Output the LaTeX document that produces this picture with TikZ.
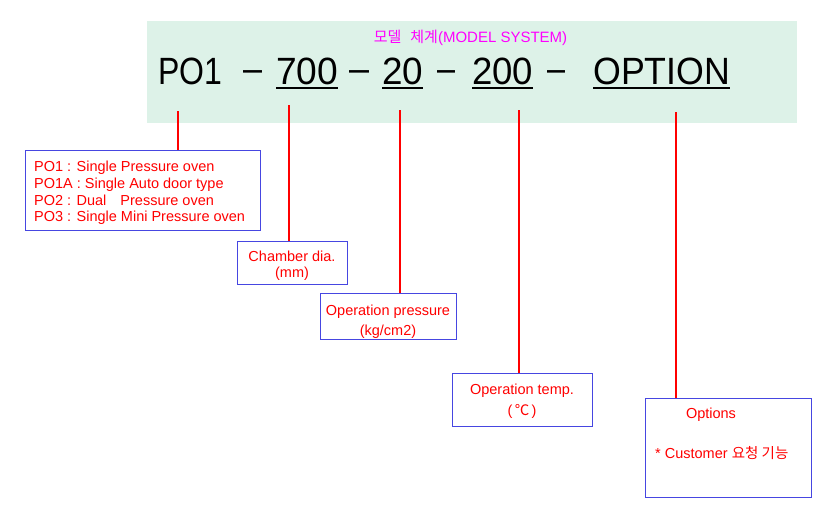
\documentclass[tikz,border=0pt]{standalone}
\usepackage{fontspec}
\setmainfont{Liberation Sans}
\newfontfamily\krfont{Noto Sans CJK KR}
\usetikzlibrary{calc}
\definecolor{bggreen}{RGB}{221,242,232}
\definecolor{boxblue}{RGB}{70,70,225}
\definecolor{ttlmag}{RGB}{255,0,255}
\begin{document}
\begin{tikzpicture}[x=1pt,y=-1pt,
  lbl/.style={text=red, font=\fontsize{14.5}{16}\selectfont, inner sep=0pt, anchor=base},
  lbll/.style={lbl, anchor=base west},
  boxnode/.style={draw=boxblue, line width=1.3pt, fill=white, inner sep=0pt, anchor=north west},
  lead/.style={draw=red, line width=1.8pt},
  big/.style={font=\fontsize{38}{40}\selectfont, inner sep=0pt, anchor=base west},
  uline/.style={draw=black, line width=1.6pt},
]
\useasboundingbox[fill=white] (0,0) rectangle (840,530);
% green panel
\node[fill=bggreen, inner sep=0pt, minimum width=650pt, minimum height=102pt, anchor=north west] (panel) at (147,21) {};
% title
\node[text=ttlmag, font=\fontsize{15}{17}\selectfont, inner sep=0pt, anchor=base] (title) at (470.5,42) {{\krfont 모델\hspace{9pt}체계}(MODEL SYSTEM)};
% model code
\node[big] (p1) at (158,84) {\resizebox{64pt}{\height}{PO1}};
\node[big] (d1) at (243,81) {\resizebox{19pt}{\height}{–}};
\node[big] (p2) at (276,84) {\resizebox{62pt}{\height}{700}};
\node[big] (d2) at (349,81) {\resizebox{20pt}{\height}{–}};
\node[big] (p3) at (382,84) {\resizebox{41pt}{\height}{20}};
\node[big] (d3) at (437,81) {\resizebox{18pt}{\height}{–}};
\node[big] (p4) at (472,84) {\resizebox{61pt}{\height}{200}};
\node[big] (d4) at (547,81) {\resizebox{18pt}{\height}{–}};
\node[big] (p5) at (593,84) {\resizebox{137pt}{\height}{OPTION}};
\foreach \n in {p2,p3,p4,p5}{
  \draw[uline] ($(\n.base west)+(0,4)$) -- ($(\n.base east)+(0,4)$);
}
% boxes
\node[boxnode, minimum width=235pt, minimum height=80pt] (b1) at (25,150) {};
\node[boxnode, minimum width=110pt, minimum height=43pt] (b2) at (237,241) {};
\node[boxnode, minimum width=136pt, minimum height=46pt] (b3) at (320,293) {};
\node[boxnode, minimum width=140pt, minimum height=53pt] (b4) at (452,373) {};
\node[boxnode, minimum width=166pt, minimum height=99pt] (b5) at (645,398) {};
% box texts
\node[lbll] (t11) at (34,171) {PO1 : Single Pressure oven};
\node[lbll] (t12) at (34,188) {PO1A : Single Auto door type};
\node[lbll] (t13) at (34,205.5) {PO2 : Dual\hspace{14pt}Pressure oven};
\node[lbll] (t14) at (34,221.5) {PO3 : Single Mini Pressure oven};
\node[lbl] (t21) at (292,261) {Chamber dia.};
\node[lbl] (t22) at (292,277) {(mm)};
\node[lbl] (t31) at (388,315) {Operation pressure};
\node[lbl] (t32) at (388,335) {(kg/cm2)};
\node[lbl] (t41) at (522,394) {Operation temp.};
\node[lbl] (t42) at (522,415) {(\,{\krfont ℃}\,)};
\node[lbl] (t51) at (711,418) {Options};
\node[lbll] (t52) at (655,458) {* Customer {\krfont 요청 기능}};
% leaders
\coordinate (c1) at (178,111);
\coordinate (c2) at (289,105);
\coordinate (c3) at (400,110);
\coordinate (c4) at (519,110);
\coordinate (c5) at (676,112);
\draw[lead] (c1) -- (c1 |- b1.north);
\draw[lead] (c2) -- (c2 |- b2.north);
\draw[lead] (c3) -- (c3 |- b3.north);
\draw[lead] (c4) -- (c4 |- b4.north);
\draw[lead] (c5) -- (c5 |- b5.north);
\end{tikzpicture}
\end{document}
